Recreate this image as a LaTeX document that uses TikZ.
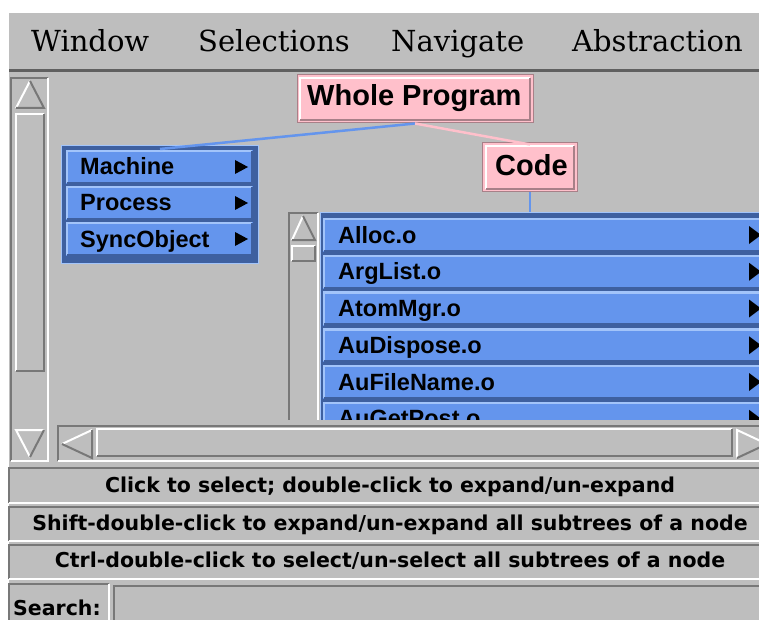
\documentclass[tikz,border=0pt]{standalone}
\usepackage{fontspec}
\newfontfamily\uifont{Liberation Sans}
\newfontfamily\hintfont{DejaVu Sans}
\newfontfamily\barfont{DejaVu Serif}
\usetikzlibrary{positioning}

\definecolor{guigray}{RGB}{190,190,190}
\definecolor{guidark}{RGB}{120,120,120}
\definecolor{pinkfill}{RGB}{255,192,203}
\definecolor{pinkdark}{RGB}{168,128,136}
\definecolor{rowblue}{RGB}{100,149,237}
\definecolor{rowlight}{RGB}{162,196,250}
\definecolor{rowdark}{RGB}{62,96,160}

% x1 y1 x2 y2 light dark
\newcommand{\guibevel}[6]{%
  \draw[#5, line width=2.5pt] (#1,#4) -- (#1,#2) -- (#3,#2);
  \draw[#6, line width=2.5pt] (#1,#4) -- (#3,#4) -- (#3,#2);
}

\begin{document}
\begin{tikzpicture}[x=1pt, y=-1pt,
  menuitem/.style={anchor=base west, inner sep=0, font=\barfont\fontsize{29}{29}\selectfont},
  pinkbox/.style={draw=pinkdark, fill=pinkfill, line width=1pt, inner sep=0},
  pinktext/.style={anchor=base west, inner sep=0, font=\uifont\bfseries\fontsize{29}{29}\selectfont},
  rowbox/.style={fill=rowblue, inner sep=0, minimum height=34pt, anchor=north west},
  rowtext/.style={anchor=base west, inner sep=0, font=\uifont\bfseries\fontsize{23.5}{23.5}\selectfont},
  hint/.style={anchor=base, inner sep=0, font=\hintfont\bfseries\fontsize{20.5}{20.5}\selectfont},
  link/.style={line width=2.5pt}]

\useasboundingbox (0,0) rectangle (759,620);
\clip (0,0) rectangle (759,620);
\fill[guigray] (9,13) rectangle (759,620);

% menu bar
\fill[guidark!80!black] (9,69) rectangle (759,72);
\node[menuitem] (window) at (31,52) {Window};
\node[menuitem] (selections) at (198,52) {Selections};
\node[menuitem] (navigate) at (391,52) {Navigate};
\node[menuitem] (abstraction) at (572,52) {Abstraction};

% left scrollbar
\guibevel{11}{78}{48}{461}{guidark}{white}
\guibevel{16}{114}{44}{371}{white}{guidark}
\draw[white, line width=2pt] (16,108) -- (30,81);
\draw[guidark, line width=2pt] (30,81) -- (44,108) -- (16,108);
\draw[white, line width=2pt] (44,430) -- (16,430) -- (30,457);
\draw[guidark, line width=2pt] (30,457) -- (44,430);

% bottom scrollbar
\guibevel{58}{426}{770}{461}{guidark}{white}
\guibevel{97}{429}{732}{456}{white}{guidark}
\draw[white, line width=2pt] (92,430) -- (62,444);
\draw[guidark, line width=2pt] (62,444) -- (92,458) -- (92,430);
\draw[white, line width=2pt] (737,458) -- (737,430) -- (767,444);
\draw[guidark, line width=2pt] (767,444) -- (737,458);

\begin{scope}
\clip (50,73) rectangle (759,419);

% file list
\guibevel{289}{213}{318}{440}{guidark}{white}
\guibevel{292}{246}{315}{261}{white}{guidark}
\draw[white, line width=2pt] (292,240) -- (303,216);
\draw[guidark, line width=2pt] (303,216) -- (315,240) -- (292,240);
\node[fill=rowdark, draw=rowlight, line width=1pt, inner sep=0, minimum width=480pt,
  minimum height=300pt, anchor=north west] (files) at (320,212) {};
\foreach \name [count=\i from 0] in {Alloc.o, ArgList.o, AtomMgr.o, AuDispose.o, AuFileName.o, AuGetPost.o} {
  \node[rowbox, minimum width=470pt] (f\i) at (323,218+36.75*\i) {};
  \guibevel{324}{219+36.75*\i}{800}{251+36.75*\i}{rowlight}{rowdark}
  \node[rowtext] (ft\i) at (338,243+36.75*\i) {\name};
  \fill (749,226+36.75*\i) -- (761,235+36.75*\i) -- (749,244+36.75*\i) -- cycle;
}

% machine menu
\node[fill=rowdark, draw=rowlight, line width=1pt, inner sep=0, minimum width=197pt,
  minimum height=118pt, anchor=north west] (menu) at (61,145) {};
\foreach \name [count=\i from 0] in {Machine, Process, SyncObject} {
  \node[rowbox, minimum width=187pt] (m\i) at (66,150+36*\i) {};
  \guibevel{67}{151+36*\i}{252}{183+36*\i}{rowlight}{rowdark}
  \node[rowtext] (mt\i) at (80,175+36*\i) {\name};
  \fill (235,160+36*\i) -- (248,167+36*\i) -- (235,174+36*\i) -- cycle;
}

% tree nodes
\node[pinkbox, minimum width=236pt, minimum height=48pt] (whole) at (415,99) {};
\guibevel{300}{78}{530}{120}{white}{pinkdark}
\node[pinktext] (wholetext) at (307,106) {Whole Program};
\node[pinkbox, minimum width=95pt, minimum height=49pt] (code) at (530,167.5) {};
\guibevel{486}{146}{574}{189}{white}{pinkdark}
\node[pinktext] (codetext) at (495,176) {Code};

\draw[link, rowblue] (whole.south) -- ([yshift=-4pt]menu.north);
\draw[link, pinkfill] (whole.south) -- ([yshift=-2pt]code.north);
\draw[link, rowblue] (code.south) -- (code.south |- files.north);
\end{scope}

% hints
\guibevel{9}{468}{770}{503}{guidark}{white}
\node[hint] (hint1) at (390,492) {Click to select; double-click to expand/un-expand};
\guibevel{9}{507}{770}{541}{guidark}{white}
\node[hint] (hint2) at (390,530) {Shift-double-click to expand/un-expand all subtrees of a node};
\guibevel{9}{545}{770}{579}{guidark}{white}
\node[hint] (hint3) at (390,567) {Ctrl-double-click to select/un-select all subtrees of a node};

% search
\guibevel{9}{584}{109}{630}{guidark}{white}
\node[hint, anchor=base west] (search) at (13,615) {Search:};
\guibevel{114}{586}{770}{630}{guidark}{white}
\end{tikzpicture}
\end{document}
